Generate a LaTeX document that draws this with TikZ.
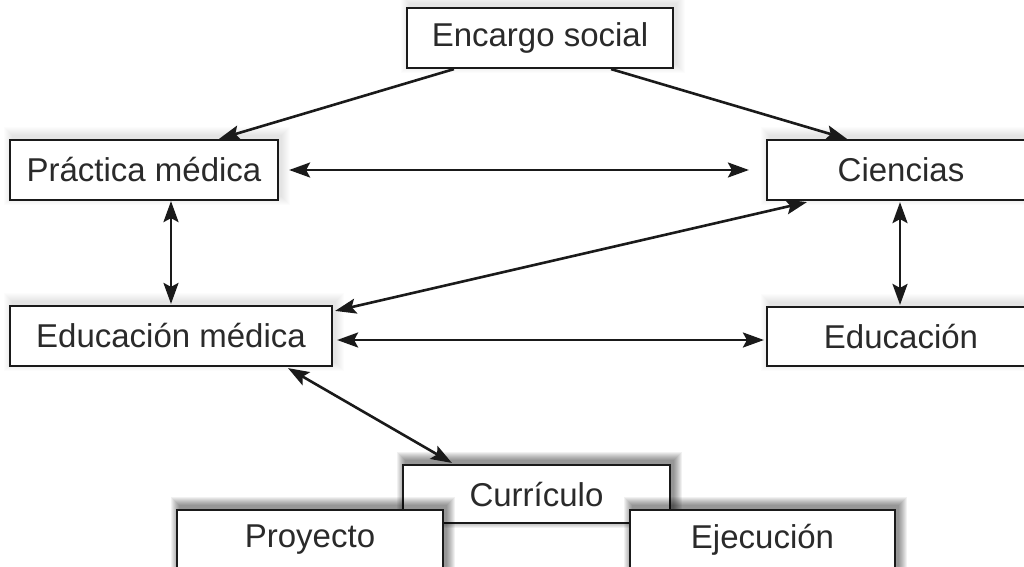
\documentclass[tikz,border=0pt]{standalone}
\usepackage{fontspec}
\setmainfont{Liberation Sans}
\usetikzlibrary{arrows.meta}
\definecolor{ink}{HTML}{1A1A1A}
\definecolor{txt}{HTML}{2A2A2A}
\newcommand\glowbox[5]{%
  \foreach \k in {1,...,9}{%
    \fill[black,opacity=#5] (#1+3-\k,#2-4-\k) rectangle (#3+3+\k,#4-4+\k);
  }%
}
\begin{document}
\begin{tikzpicture}[x=1pt,y=-1pt,
  box/.style={draw=ink,line width=2.2pt,fill=white,inner sep=0pt,
    font=\fontsize{33}{38}\selectfont,text=txt},
  conn/.style={draw=ink,line width=2.6pt,
    -{Stealth[length=21pt,width=15pt,inset=4pt]}},
  dbl/.style={draw=ink,line width=2.6pt,
    {Stealth[length=21pt,width=15pt,inset=4pt]}-{Stealth[length=21pt,width=15pt,inset=4pt]}}]
\useasboundingbox (0,0) rectangle (1024,566);
\clip (0,0) rectangle (1024,566);
\fill[white] (0,0) rectangle (1024,566);

% upper boxes
\glowbox{407}{8}{673}{68}{0.012}
\node[box,minimum width=266pt,minimum height=60pt] (enc) at (540,38) {Encargo social};
\glowbox{10}{140}{278}{200}{0.012}
\node[box,minimum width=268pt,minimum height=60pt] (prac) at (144,170) {Práctica médica};
\glowbox{767}{140}{1035}{200}{0.012}
\node[box,minimum width=268pt,minimum height=60pt] (cien) at (901,170) {Ciencias};
\glowbox{10}{306}{332}{366}{0.012}
\node[box,minimum width=322pt,minimum height=60pt] (edm) at (171,336) {Educación médica};
\glowbox{767}{307}{1035}{366}{0.012}
\node[box,minimum width=268pt,minimum height=59pt] (edu) at (901,336.5) {Educación};

% lower boxes
\glowbox{403}{465}{670}{523}{0.055}
\node[box,minimum width=267pt,minimum height=58pt] (cur) at (536.5,494) {Currículo};
\glowbox{177}{510}{443}{570}{0.055}
\node[box,minimum width=266pt,minimum height=60pt] (pro) at (310,540) {Proyecto};
\glowbox{630}{510}{895}{570}{0.055}
\node[box,minimum width=265pt,minimum height=60pt] (eje) at (762.5,540) {Ejecución};

% connectors
\draw[conn] ([xshift=48pt]enc.south west) -- ([xshift=75pt]prac.north);
\draw[conn] ([xshift=-63pt]enc.south east) -- ([xshift=-54pt]cien.north);
\draw[dbl] ([xshift=10pt]prac.east) -- ([xshift=-17pt]cien.west);
\draw[dbl] (prac.south -| edm.north) -- ([yshift=1pt]edm.north);
\draw[dbl] ([xshift=-1pt,yshift=-1pt]cien.south) -- ([xshift=-1pt,yshift=1pt]edu.north);
\draw[dbl] ([xshift=41pt,yshift=-1pt]cien.south west) -- ([xshift=2pt,yshift=-6pt]edm.north east);
\draw[dbl] ([xshift=4pt,yshift=-4pt]edm.east) -- ([xshift=-2pt,yshift=-3.5pt]edu.west);
\draw[dbl] ([xshift=117pt,yshift=-1pt]edm.south) -- ([xshift=50pt,yshift=1pt]cur.north west);
\end{tikzpicture}
\end{document}
